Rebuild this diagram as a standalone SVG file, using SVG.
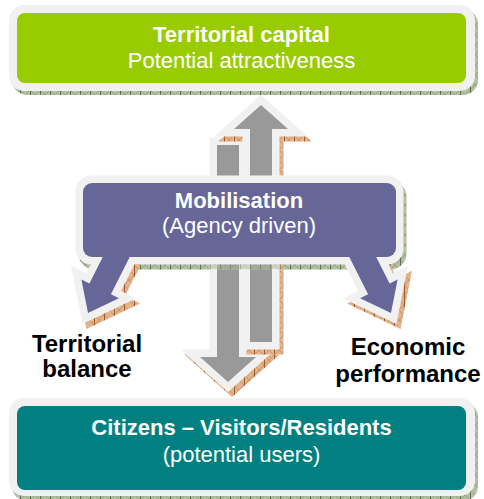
<svg xmlns="http://www.w3.org/2000/svg" width="484" height="499" viewBox="0 0 484 499">
<defs>
<style>
text{font-family:"Liberation Sans",Arial,Helvetica,sans-serif;text-anchor:middle}
.t{font-size:22px;fill:#fff}
.b{font-weight:bold}
.lab{font-size:24px;font-weight:bold;fill:#000}
.env{fill:#f1f1f1;stroke:#f1f1f1;stroke-width:15;stroke-linejoin:miter}
.gsh{fill:url(#gh)}
.osh{fill:url(#oh);stroke:url(#oh);stroke-width:15;stroke-linejoin:miter}
.gray{fill:#999999}
.purp{fill:#666699}
</style>
<pattern id="gh" width="10" height="10" patternUnits="userSpaceOnUse">
<rect width="10" height="10" fill="#b4c0a2"/>
<path d="M0 0L10 10M10 0L0 10" stroke="#8e9c7c" stroke-width="0.8"/>
<path d="M0.5 0V10" stroke="#5f6f4f" stroke-width="1"/>
</pattern>
<pattern id="oh" width="10" height="10" patternUnits="userSpaceOnUse">
<rect width="10" height="10" fill="#e2b48e"/>
<path d="M0 0L10 10M10 0L0 10" stroke="#c98a58" stroke-width="0.8"/>
<path d="M0.5 0V10" stroke="#a45a26" stroke-width="1"/>
</pattern>
<mask id="mGray" maskUnits="userSpaceOnUse" x="0" y="0" width="484" height="499">
<rect width="484" height="499" fill="#fff"/>
<rect x="78.5" y="180.5" width="328" height="89" rx="16" fill="#777"/>
<rect x="75.5" y="175.5" width="328" height="89" rx="16" fill="#000"/>
</mask>
<mask id="mBoxOuter" maskUnits="userSpaceOnUse" x="0" y="0" width="484" height="499">
<rect width="484" height="499" fill="#fff"/>
<rect x="75.5" y="175.5" width="328" height="89" rx="16" fill="#000"/>
</mask>
<mask id="mBoxInner" maskUnits="userSpaceOnUse" x="0" y="0" width="484" height="499">
<rect width="484" height="499" fill="#fff"/>
<rect x="83" y="183" width="313" height="74" fill="#000"/>
</mask>
</defs>

<g id="territorial-capital">
<rect x="12" y="9" width="466" height="86" rx="15" class="gsh"/>
<rect x="9" y="5" width="466" height="86" rx="15" fill="#f1f1f1"/>
<rect x="17" y="13" width="449" height="70" rx="8" fill="#99cc00"/>
<text class="t b" x="241.5" y="42">Territorial capital</text>
<text class="t" x="241.5" y="68">Potential attractiveness</text>
</g>

<g id="citizens">
<rect x="12" y="402" width="466" height="99" rx="15" class="gsh"/>
<rect x="9" y="398" width="466" height="98" rx="15" fill="#f1f1f1"/>
<rect x="17" y="406" width="449" height="84" rx="8" fill="#008080"/>
<text class="t b" x="241.5" y="435">Citizens – Visitors/Residents</text>
<text class="t" x="241.5" y="462">(potential users)</text>
</g>

<g id="mobilisation">
<rect x="78.5" y="180.5" width="328" height="89" rx="16" class="gsh"/>
<rect x="75.5" y="175.5" width="328" height="89" rx="16" fill="#f1f1f1"/>
<rect x="83" y="183" width="313" height="74" rx="9" class="purp"/>
<text class="t b" x="239" y="208">Mobilisation</text>
<text class="t" x="239" y="233">(Agency driven)</text>
</g>

<g id="territorial-balance">
<text class="lab" x="87" y="352">Territorial</text>
<text class="lab" x="87" y="377">balance</text>
</g>

<g id="economic-performance">
<text class="lab" x="408" y="355">Economic</text>
<text class="lab" x="408" y="382">performance</text>
</g>

<g id="connectors">
<g mask="url(#mGray)">
<path class="osh" transform="translate(4,5)" d="M217 145H239V357H256L228 382L200 357H217Z"/>
<path class="env" d="M217 145H239V357H256L228 382L200 357H217Z"/>
<path class="gray" d="M217 145H239V357H256L228 382L200 357H217Z"/>
<path class="osh" transform="translate(4,5)" d="M250 342H272V129H288L261 105L234 129H250Z"/>
<path class="env" d="M250 342H272V129H288L261 105L234 129H250Z"/>
<path class="gray" d="M250 342H272V129H288L261 105L234 129H250Z"/>
</g>
<g mask="url(#mBoxOuter)">
<path class="osh" transform="translate(4,5)" d="M116.4 229.9L137.9 240.7L110.9 294.3L118.9 298.35L88 313L81.4 279.45L89.4 283.5Z"/>
<path class="osh" transform="translate(4,5)" d="M362.6 229.9L341.1 240.7L368.1 294.3L360.1 298.35L391 313L397.6 279.45L389.6 283.5Z"/>
</g>
<g mask="url(#mBoxInner)">
<path class="env" d="M116.4 229.9L137.9 240.7L110.9 294.3L118.9 298.35L88 313L81.4 279.45L89.4 283.5Z"/>
<path class="env" d="M362.6 229.9L341.1 240.7L368.1 294.3L360.1 298.35L391 313L397.6 279.45L389.6 283.5Z"/>
</g>
<path class="purp" d="M116.4 229.9L137.9 240.7L110.9 294.3L118.9 298.35L88 313L81.4 279.45L89.4 283.5Z"/>
<path class="purp" d="M362.6 229.9L341.1 240.7L368.1 294.3L360.1 298.35L391 313L397.6 279.45L389.6 283.5Z"/>
</g>
</svg>
